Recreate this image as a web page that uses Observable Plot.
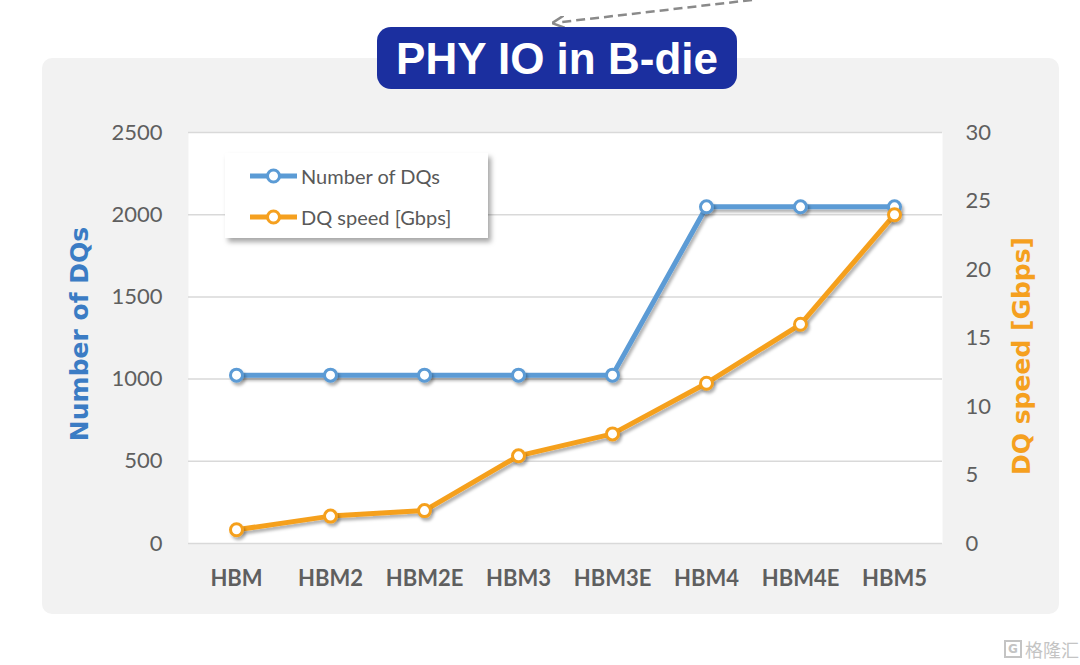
<!DOCTYPE html>
<html>
<head>
<meta charset="utf-8">
<script src="https://cdn.jsdelivr.net/npm/d3@7"></script>
<script src="https://cdn.jsdelivr.net/npm/@observablehq/plot@0.6"></script>
<style>
  html, body { margin: 0; padding: 0; background: #ffffff; }
  #page { position: relative; width: 1080px; height: 665px; overflow: hidden; background: #ffffff; }
  #panel { position: absolute; left: 42px; top: 58px; width: 1017px; height: 556px; background: #f2f2f2; border-radius: 10px; }
  #chart { position: absolute; left: 0; top: 0; }
  #chart svg { background: transparent; overflow: visible; }
  #badge { position: absolute; left: 377px; top: 27px; width: 360px; height: 62px; background: #1b2f9f; border-radius: 14px;
           color: #ffffff; font-family: "Liberation Sans", Arial, sans-serif; font-weight: bold; font-size: 44px;
           line-height: 64px; text-align: center; }
  #arrow { position: absolute; left: 0; top: 0; }
  #legend { position: absolute; left: 225px; top: 153px; width: 263px; height: 85px; background: #ffffff;
            box-shadow: 3px 4px 5px rgba(0,0,0,0.35); font-family: Lato, "Open Sans", sans-serif; font-size: 20px; color: #595959; }
  .item { position: absolute; left: 24px; height: 24px; display: flex; align-items: center; }
  .item svg { margin-right: 2px; }
  #wm { position: absolute; left: 1004px; top: 636px; font-family: "Noto Sans CJK SC", sans-serif; font-size: 18px; color: #c4c4c4;
        display: flex; align-items: center; }
  #wm .g { display: inline-block; width: 18px; height: 18px; border: 2px solid #c4c4c4; box-sizing: border-box; font-family: "DejaVu Sans"; font-size: 12px;
           line-height: 14px; text-align: center; font-weight: bold; margin-right: 3px; }
</style>
</head>
<body>
<div id="page">
  <div id="panel"></div>
  <div id="chart"></div>
  <svg id="arrow" width="1080" height="40">
    <defs>
      <marker id="ah" viewBox="0 0 10 10" refX="2" refY="5" markerWidth="5" markerHeight="5" orient="auto-start-reverse">
        <path d="M0,0 L10,5 L0,10" fill="none" stroke="#8a8a8a" stroke-width="2"/>
      </marker>
    </defs>
    <line x1="752" y1="0" x2="562" y2="22" stroke="#8a8a8a" stroke-width="2.5" stroke-dasharray="9 5" marker-end="url(#ah)"/>
  </svg>
  <div id="badge">PHY IO in B-die</div>
  <div id="legend"></div>
  <div id="wm"><span class="g">G</span>格隆汇</div>
</div>
<script>
// ---- data ----
const generations = ["HBM", "HBM2", "HBM2E", "HBM3", "HBM3E", "HBM4", "HBM4E", "HBM5"];
const dqCount = [1024, 1024, 1024, 1024, 1024, 2048, 2048, 2048];
const dqSpeed = [1.0, 2.0, 2.4, 6.4, 8.0, 11.7, 16.0, 24.0];
const leftTicks = [0, 500, 1000, 1500, 2000, 2500];
const rightTicks = [0, 5, 10, 15, 20, 25, 30];
const seriesNames = ["Number of DQs", "DQ speed [Gbps]"];
const seriesColors = ["#5b9bd5", "#f5a01f"];
const titleColors = ["#3b7cc4", "#f5a01f"];

const leftMax = 2500, rightMax = 30;
const k = leftMax / rightMax; // map right axis onto left scale

const dqData = generations.map((g, i) => ({gen: g, value: dqCount[i]}));
const speedData = generations.map((g, i) => ({gen: g, value: dqSpeed[i] * k}));

const tickFont = {fontFamily: "Lato, 'Open Sans', sans-serif", fontSize: 22, fill: "#5f5f5f"};

const chart = Plot.plot({
  width: 1080,
  height: 665,
  marginLeft: 188,
  marginRight: 138,
  marginTop: 132,
  marginBottom: 122,
  style: {background: "transparent", overflow: "visible"},
  x: {type: "point", domain: generations, padding: 0.5},
  y: {domain: [0, leftMax]},
  marks: [
    Plot.frame({fill: "#ffffff", stroke: "none"}),
    Plot.gridY(leftTicks, {stroke: "#d9d9d9", strokeOpacity: 1, strokeWidth: 1.5}),
    Plot.axisY(leftTicks, {tickSize: 0, tickPadding: 26, label: null, tickFormat: d => String(d), ...tickFont}),
    Plot.axisY(rightTicks.map(v => v * k), {anchor: "right", tickSize: 0, tickPadding: 23, label: null,
      tickFormat: d => String(Math.round(d / k)), ...tickFont}),
    Plot.axisX({tickSize: 0, tickPadding: 27, label: null, fontFamily: "Lato, 'Open Sans', sans-serif",
      fontSize: 22, fontWeight: "bold", fill: "#5f5f5f"}),
    Plot.line(dqData, {x: "gen", y: "value", stroke: seriesColors[0], strokeWidth: 5, className: "shadowed"}),
    Plot.dot(dqData, {x: "gen", y: "value", r: 6, fill: "#ffffff", stroke: seriesColors[0], strokeWidth: 3, className: "shadowed"}),
    Plot.line(speedData, {x: "gen", y: "value", stroke: seriesColors[1], strokeWidth: 5, className: "shadowed"}),
    Plot.dot(speedData, {x: "gen", y: "value", r: 6, fill: "#ffffff", stroke: seriesColors[1], strokeWidth: 3, className: "shadowed"}),
    Plot.text([seriesNames[0]], {frameAnchor: "left", textAnchor: "middle", dx: -109, dy: -4, rotate: -90, fill: titleColors[0],
      fontFamily: "'DejaVu Sans', sans-serif", fontWeight: "bold", fontSize: 25}),
    Plot.text([seriesNames[1]], {frameAnchor: "right", textAnchor: "middle", dx: 79, dy: 18, rotate: -90, fill: titleColors[1],
      fontFamily: "'DejaVu Sans', sans-serif", fontWeight: "bold", fontSize: 25})
  ]
});
// subtle drop shadow under the series, like the original chart
const ns = "http://www.w3.org/2000/svg";
const defs = document.createElementNS(ns, "defs");
defs.innerHTML = `<filter id="ds" x="-5%" y="-5%" width="115%" height="125%">
  <feDropShadow dx="2" dy="3" stdDeviation="1.6" flood-color="#000" flood-opacity="0.3"/></filter>`;
chart.insertBefore(defs, chart.firstChild);
chart.querySelectorAll(".shadowed").forEach(g => g.setAttribute("filter", "url(#ds)"));
document.getElementById("chart").appendChild(chart);

// legend
const legend = document.getElementById("legend");
seriesNames.forEach((name, i) => {
  const item = document.createElement("div");
  item.className = "item";
  item.style.top = (11 + i * 41) + "px";
  item.innerHTML = `<svg width="50" height="20"><line x1="1" y1="10" x2="48" y2="10" stroke="${seriesColors[i]}" stroke-width="5"/>` +
    `<circle cx="24.5" cy="10" r="6" fill="#fff" stroke="${seriesColors[i]}" stroke-width="3"/></svg><span>${name}</span>`;
  legend.appendChild(item);
});
</script>
</body>
</html>
